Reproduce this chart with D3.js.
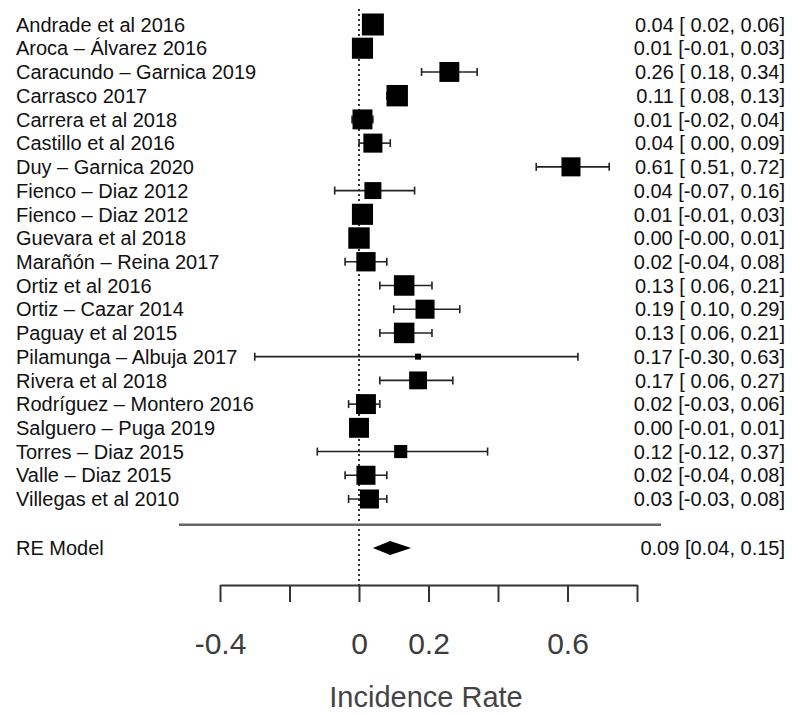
<!DOCTYPE html>
<html>
<head>
<meta charset="utf-8">
<script src="https://cdn.jsdelivr.net/npm/d3@7/dist/d3.min.js"></script>
<style>
  html, body { margin: 0; padding: 0; background: #fff; }
  svg { display: block; font-family: "Liberation Sans", Arial, Helvetica, sans-serif; }
</style>
</head>
<body>
<svg id="chart" width="793" height="715"></svg>
<script>
// Studies (top to bottom) with incidence rate and 95% CI
const studies = [
  "Andrade et al 2016", "Aroca – Álvarez 2016", "Caracundo – Garnica 2019", "Carrasco 2017",
  "Carrera et al 2018", "Castillo et al 2016", "Duy – Garnica 2020", "Fienco – Diaz 2012",
  "Fienco – Diaz 2012", "Guevara et al 2018", "Marañón – Reina 2017", "Ortiz et al 2016",
  "Ortiz – Cazar 2014", "Paguay et al 2015", "Pilamunga – Albuja 2017", "Rivera et al 2018",
  "Rodríguez – Montero 2016", "Salguero – Puga 2019", "Torres – Diaz 2015", "Valle – Diaz 2015",
  "Villegas et al 2010"
];
const estimate = [0.04, 0.01, 0.26, 0.11, 0.01, 0.04, 0.61, 0.04, 0.01, 0.00, 0.02,
                  0.13, 0.19, 0.13, 0.17, 0.17, 0.02, 0.00, 0.12, 0.02, 0.03];
const lower    = [0.02, -0.01, 0.18, 0.08, -0.02, 0.00, 0.51, -0.07, -0.01, -0.00, -0.04,
                  0.06, 0.10, 0.06, -0.30, 0.06, -0.03, -0.01, -0.12, -0.04, -0.03];
const upper    = [0.06, 0.03, 0.34, 0.13, 0.04, 0.09, 0.72, 0.16, 0.03, 0.01, 0.08,
                  0.21, 0.29, 0.21, 0.63, 0.27, 0.06, 0.01, 0.37, 0.08, 0.08];
const ciText   = ["0.04 [ 0.02, 0.06]", "0.01 [-0.01, 0.03]", "0.26 [ 0.18, 0.34]", "0.11 [ 0.08, 0.13]",
                  "0.01 [-0.02, 0.04]", "0.04 [ 0.00, 0.09]", "0.61 [ 0.51, 0.72]", "0.04 [-0.07, 0.16]",
                  "0.01 [-0.01, 0.03]", "0.00 [-0.00, 0.01]", "0.02 [-0.04, 0.08]", "0.13 [ 0.06, 0.21]",
                  "0.19 [ 0.10, 0.29]", "0.13 [ 0.06, 0.21]", "0.17 [-0.30, 0.63]", "0.17 [ 0.06, 0.27]",
                  "0.02 [-0.03, 0.06]", "0.00 [-0.01, 0.01]", "0.12 [-0.12, 0.37]", "0.02 [-0.04, 0.08]",
                  "0.03 [-0.03, 0.08]"];
// Study weights (%) used for marker size
const weight   = [5.6, 5.3, 4.9, 5.4, 4.9, 4.6, 4.6, 3.9, 5.3, 5.4, 4.7,
                  5.1, 4.6, 5.1, 0.2, 4.2, 4.9, 4.9, 2.6, 4.6, 4.6];

// Random-effects summary
const reLabel = "RE Model";
const reEstimate = 0.09, reLower = 0.04, reUpper = 0.15;
const reText = "0.09 [0.04, 0.15]";

// Axis
const tickValues = [-0.4, -0.2, 0, 0.2, 0.4, 0.6, 0.8];
const tickLabels = ["-0.4", "", "0", "0.2", "", "0.6", ""];
const axisTitle = "Incidence Rate";

const svg = d3.select("#chart");
const k = studies.length;

const x = d3.scaleLinear().domain([-0.4, 0.8]).range([220, 637]);
// rows: k (top) ... 1 (bottom), 0 = separator, -1 = summary
const y = d3.scaleLinear().domain([k, 1]).range([24.5, 499]);
const size = d3.scaleLinear().domain(d3.extent(weight)).range([6, 22]);

const axisY = 585;
const ink = "#111";

// reference line at zero
svg.append("line")
  .attr("x1", x(0)).attr("x2", x(0))
  .attr("y1", 9).attr("y2", axisY)
  .attr("stroke", "#333").attr("stroke-width", 2)
  .attr("stroke-dasharray", "2,3");

// separator line above summary
svg.append("line")
  .attr("x1", 179).attr("x2", 661)
  .attr("y1", y(0) + 2).attr("y2", y(0) + 2)
  .attr("stroke", "#666").attr("stroke-width", 2.5);

const rows = studies.map((s, i) => ({
  name: s, est: estimate[i], lo: lower[i], hi: upper[i], txt: ciText[i], w: weight[i], row: k - i
}));

const g = svg.append("g").selectAll("g").data(rows).join("g");

// confidence intervals
g.append("line")
  .attr("x1", d => x(d.lo)).attr("x2", d => x(d.hi))
  .attr("y1", d => y(d.row)).attr("y2", d => y(d.row))
  .attr("stroke", "#222").attr("stroke-width", 1.6);
g.selectAll("line.cap").data(d => [[d.lo, d.row], [d.hi, d.row]]).join("line")
  .attr("class", "cap")
  .attr("x1", d => x(d[0])).attr("x2", d => x(d[0]))
  .attr("y1", d => y(d[1]) - 4).attr("y2", d => y(d[1]) + 4)
  .attr("stroke", "#222").attr("stroke-width", 1.6);

// point estimates
g.append("rect")
  .attr("x", d => x(d.est) - size(d.w) / 2)
  .attr("y", d => y(d.row) - size(d.w) / 2)
  .attr("width", d => size(d.w)).attr("height", d => size(d.w))
  .attr("fill", "#000");

// study labels
g.append("text")
  .attr("x", 16).attr("y", d => y(d.row)).attr("dy", "0.36em")
  .attr("font-size", 20).attr("fill", ink)
  .text(d => d.name);

// estimate annotations
g.append("text")
  .attr("x", 785).attr("y", d => y(d.row)).attr("dy", "0.36em")
  .attr("text-anchor", "end").attr("font-size", 20).attr("fill", ink)
  .style("white-space", "pre").attr("xml:space", "preserve")
  .text(d => d.txt);

// summary diamond
const yRE = y(-1) + 1.5;
svg.append("polygon")
  .attr("points", [[x(reLower), yRE], [x(reEstimate), yRE - 7], [x(reUpper), yRE], [x(reEstimate), yRE + 7]].join(" "))
  .attr("fill", "#000");
svg.append("text")
  .attr("x", 16).attr("y", yRE).attr("dy", "0.36em")
  .attr("font-size", 20).attr("fill", ink).text(reLabel);
svg.append("text")
  .attr("x", 785).attr("y", yRE).attr("dy", "0.36em")
  .attr("text-anchor", "end").attr("font-size", 20).attr("fill", ink).text(reText);

// x axis
const axis = d3.axisBottom(x)
  .tickValues(tickValues)
  .tickFormat((d, i) => tickLabels[i])
  .tickSize(17).tickSizeOuter(0).tickPadding(31);
const ax = svg.append("g").attr("transform", `translate(0,${axisY})`).call(axis);
ax.select(".domain").attr("stroke", "#333").attr("stroke-width", 2);
ax.selectAll(".tick line").attr("stroke", "#333").attr("stroke-width", 2);
ax.selectAll(".tick text")
  .attr("font-size", 30).attr("fill", "#3c3c3c")
  .attr("font-family", "\"Liberation Sans\", Arial, sans-serif");

svg.append("text")
  .attr("x", 426).attr("y", 707)
  .attr("text-anchor", "middle").attr("font-size", 29).attr("fill", "#444")
  .text(axisTitle);
</script>
</body>
</html>
